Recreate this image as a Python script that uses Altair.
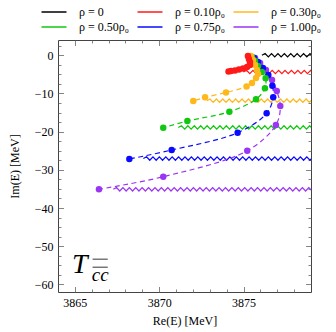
import altair as alt
import pandas as pd

# ---------------- data ----------------
series = ["ρ = 0", "ρ = 0.10ρ₀", "ρ = 0.30ρ₀", "ρ = 0.50ρ₀", "ρ = 0.75ρ₀", "ρ = 1.00ρ₀"]
colors = ["#000000", "#ff1a1a", "#ffb81c", "#10c810", "#0a0aff", "#9a35f5"]

# thresholds (branch cuts): starting Re(E), Im(E)
cut_re = [3876.09, 3874.99, 3872.82, 3871.13, 3869.06, 3867.28]
cut_im = [0.0, -4.38, -11.9, -18.9, -27.05, -35.1]

# pole trajectories
red_re = [3875.26, 3875.32, 3875.38, 3875.38, 3875.21, 3874.97, 3874.73, 3874.49, 3874.26, 3874.11]
red_im = [-0.19, -0.98, -1.76, -2.55, -3.07, -3.46, -3.73, -3.99, -4.12, -4.25]

orange_re = [3875.44, 3875.56, 3875.68, 3875.80, 3875.86, 3875.74, 3875.50, 3875.18, 3873.96, 3872.72, 3872.02]
orange_im = [-0.19, -1.24, -2.55, -3.86, -4.90, -5.95, -7.26, -8.18, -9.75, -11.01, -11.98]

green_re = [3875.50, 3875.68, 3875.86, 3876.09, 3876.31, 3876.27, 3875.74, 3874.16, 3871.67, 3870.24]
green_im = [-0.45, -1.50, -2.81, -4.38, -6.03, -8.65, -11.53, -14.78, -17.22, -18.97]

blue_re = [3875.62, 3875.86, 3876.15, 3876.47, 3876.71, 3876.76, 3876.37, 3874.65, 3870.74, 3868.23]
blue_im = [-0.71, -1.76, -3.33, -5.17, -7.97, -11.01, -15.20, -20.28, -24.81, -27.17]

purple_re = [3875.68, 3875.98, 3876.33, 3876.69, 3876.97, 3877.18, 3876.92, 3875.22, 3870.24, 3866.43]
purple_im = [-0.71, -2.02, -3.86, -6.48, -9.36, -13.29, -18.26, -25.00, -31.80, -35.10]

x_major = [3865, 3870, 3875]
x_minor = [3866, 3867, 3868, 3869, 3871, 3872, 3873, 3874, 3876, 3877, 3878]
y_major = [0, -10, -20, -30, -40, -50, -60]
y_minor = [2.5, -2.5, -5, -7.5, -12.5, -15, -17.5, -22.5, -25, -27.5, -32.5, -35, -37.5,
           -42.5, -45, -47.5, -52.5, -55, -57.5]

XDOM = [3864, 3879]
YDOM = [-62, 4]
W, H = 253, 252
FONT = "Liberation Serif"

# ---------------- tables ----------------
traj = []
draw_order = [5, 4, 3, 2, 1]
trajs = {1: (red_re, red_im), 2: (orange_re, orange_im), 3: (green_re, green_im),
         4: (blue_re, blue_im), 5: (purple_re, purple_im)}
for k in draw_order:
    re, im = trajs[k]
    for i, (a, b) in enumerate(zip(re, im)):
        traj.append({"s": series[k], "re": a, "im": b, "i": i, "z": draw_order.index(k)})
traj = pd.DataFrame(traj)

# zigzag decoration of each cut line
amp, half = 0.45, 0.19
cuts = []
for s, x0, y0 in zip(series, cut_re, cut_im):
    i = 0
    x = x0
    while x < XDOM[1] + 0.3:
        dy = 0 if i == 0 else (amp if i % 2 else -amp)
        cuts.append({"s": s, "re": x, "im": y0 + dy, "i": i})
        i += 1
        x = x0 + i * half
cuts = pd.DataFrame(cuts)

xs = alt.Scale(domain=XDOM, nice=False, zero=False)
ys = alt.Scale(domain=YDOM, nice=False, zero=False)
cscale = alt.Scale(domain=series, range=colors)

grid_common = dict(ticks=False, domain=False, grid=True, gridColor="#666", gridWidth=0.8, gridOpacity=1)

x_major_axis = alt.Axis(orient="bottom", values=x_major, format="d", labelFont=FONT, labelFontSize=12,
                        labelColor="black", labelPadding=5, tickSize=0,
                        title="Re(E) [MeV]", titleFont=FONT, titleFontSize=12, titleFontWeight="normal",
                        titleColor="black", titlePadding=7,
                        gridDash=[5.5, H - 11, 5.5, 3000], **grid_common)
y_major_axis = alt.Axis(orient="left", values=y_major, format="d", labelFont=FONT, labelFontSize=12,
                        labelColor="black", labelPadding=5, tickSize=0,
                        title="Im(E) [MeV]", titleFont=FONT, titleFontSize=12, titleFontWeight="normal",
                        titleColor="black", titlePadding=13,
                        gridDash=[5.5, W - 11, 5.5, 3000], **grid_common)
x_minor_axis = alt.Axis(orient="bottom", values=x_minor, labels=False, title=None, tickSize=0,
                        gridDash=[3, H - 6, 3, 3000], **grid_common)
y_minor_axis = alt.Axis(orient="left", values=y_minor, labels=False, title=None, tickSize=0,
                        gridDash=[3, W - 6, 3, 3000], **grid_common)

# legend line sample: 25 px long stroke drawn with a small symbol box (5 px)
legend = alt.Legend(title=None, orient="none", legendX=-10, legendY=-34, columns=3, direction="horizontal",
                    symbolType="M-5,0H5", symbolSize=25, symbolStrokeWidth=1.5,
                    labelFont=FONT, labelFontSize=12, labelColor="black",
                    columnPadding=5, rowPadding=3, labelOffset=19, padding=0)

cut_layer = alt.Chart(cuts).mark_line(strokeWidth=1.2, clip=True).encode(
    x=alt.X("re:Q", scale=xs, axis=x_major_axis),
    y=alt.Y("im:Q", scale=ys, axis=y_major_axis),
    color=alt.Color("s:N", scale=cscale, legend=legend),
    detail="s:N",
    order="i:Q",
)

line_layer = alt.Chart(traj).mark_line(strokeWidth=1.2, strokeDash=[5, 3.5], interpolate="catmull-rom", clip=True).encode(
    x=alt.X("re:Q", scale=xs, axis=x_minor_axis),
    y=alt.Y("im:Q", scale=ys, axis=y_minor_axis),
    stroke=alt.Stroke("s:N", scale=alt.Scale(domain=series, range=colors), legend=None),
    detail="s:N",
    order="i:Q",
)

point_layer = alt.Chart(traj).mark_circle(size=42, opacity=1).encode(
    x=alt.X("re:Q", scale=xs, axis=None),
    y=alt.Y("im:Q", scale=ys, axis=None),
    fill=alt.Fill("s:N", scale=alt.Scale(domain=series, range=colors), legend=None),
    order="z:Q",
)

# label T^-_{cc}
lab_T = pd.DataFrame({"re": [3864.83], "im": [-57.0], "t": ["T"]})
lab_bar = pd.DataFrame({"re": [3866.05, 3866.05], "re2": [3866.95, 3866.95], "im": [-53.4, -55.5]})
lab_cc = pd.DataFrame({"re": [3866.0], "im": [-59.0], "t": ["cc"]})

t_layer = alt.Chart(lab_T).mark_text(font=FONT, fontSize=28, fontStyle="italic", align="left",
                                     baseline="alphabetic", color="black").encode(
    x=alt.X("re:Q", scale=xs, axis=None), y=alt.Y("im:Q", scale=ys, axis=None), text="t:N")
bar_layer = alt.Chart(lab_bar).mark_rule(color="black", strokeWidth=0.8).encode(
    x=alt.X("re:Q", scale=xs, axis=None), x2="re2:Q", y=alt.Y("im:Q", scale=ys, axis=None))
cc_layer = alt.Chart(lab_cc).mark_text(font=FONT, fontSize=19, fontStyle="italic", align="left",
                                       baseline="alphabetic", color="black").encode(
    x=alt.X("re:Q", scale=xs, axis=None), y=alt.Y("im:Q", scale=ys, axis=None), text="t:N")

chart = alt.layer(cut_layer, line_layer, point_layer, t_layer, bar_layer, cc_layer).resolve_axis(
    x="independent", y="independent"
).resolve_scale(stroke="independent", fill="independent").properties(
    width=W, height=H,
    autosize=alt.AutoSizeParams(type="none"),
    padding={"left": 50, "top": 32, "right": 17, "bottom": 36},
).configure_view(stroke="#444", strokeWidth=1)

chart.save("out.html", embed_options={"renderer": "svg", "actions": False})
